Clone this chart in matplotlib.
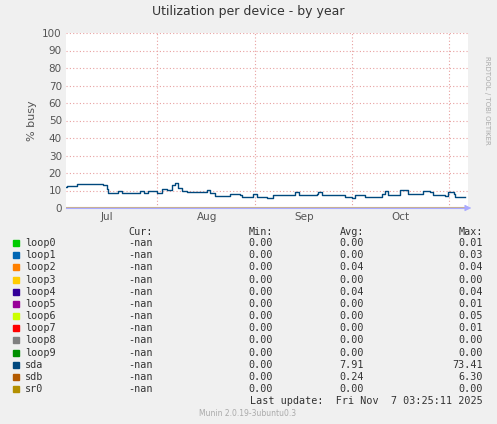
import matplotlib
matplotlib.use("Agg")
import matplotlib.pyplot as plt

title = "Utilization per device - by year"
ylabel = "% busy"
month_labels = ["Jul", "Aug", "Sep", "Oct"]
month_label_pos = [13.0, 44.8, 75.6, 106.0]
month_grid = [28.9, 60.0, 90.8, 121.6]

sda_days = [0, 0.2, 3.4, 6.6, 9.7, 11.9, 12.9, 13.4, 16.1, 16.6, 17.7, 23, 23.5, 24.6, 26.1, 28.8,
            30.4, 32, 33.5, 34.6, 35.7, 36.7, 38.3, 43.6, 44.7, 45.7, 47.3, 48.9, 51.5, 52.1, 55.2,
            55.8, 59, 59.5, 60.5, 63.7, 65.3, 65.8, 72.2, 72.7, 73.8, 79.6, 80.1, 81.2, 84.9, 88.6,
            90.7, 91.8, 93.9, 94.9, 97, 100.2, 101.3, 102.3, 105.5, 106, 108.2, 108.7, 112.4, 113.4,
            115.6, 116.6, 120.3, 121.4, 123, 123.5, 126.7]
sda_vals = [12.2, 12.5, 13.5, 14, 13.5, 13, 11, 8.5, 8.5, 10, 8.5, 8.5, 10, 8.5, 9.5, 8.4,
            11, 10.5, 13, 14.5, 11.5, 10, 9, 9, 10.5, 8.5, 7, 7, 7, 8, 7.5,
            6.5, 6.5, 8, 6.5, 5.5, 5.5, 7.5, 7.5, 9, 7.5, 8, 9, 7.5, 7.5, 6.5,
            6, 7.5, 7.5, 6.5, 6.5, 8, 10, 7.5, 7.5, 10.5, 10.5, 8, 8, 10,
            9, 7.5, 7, 9, 8, 6.5, 6.5]

names = ["loop0", "loop1", "loop2", "loop3", "loop4", "loop5", "loop6", "loop7", "loop8", "loop9", "sda", "sdb", "sr0"]
colors = ["#00CC00", "#0066B3", "#FF8000", "#FFCC00", "#330099", "#990099", "#CCFF00", "#FF0000",
          "#808080", "#008F00", "#00487D", "#B35A00", "#B38F00"]
cur = ["-nan"] * 13
mins = ["0.00"] * 13
avgs = ["0.00", "0.00", "0.04", "0.00", "0.04", "0.00", "0.00", "0.00", "0.00", "0.00", "7.91", "0.24", "0.00"]
maxs = ["0.01", "0.03", "0.04", "0.00", "0.04", "0.01", "0.05", "0.01", "0.00", "0.00", "73.41", "6.30", "0.00"]

W, H = 497, 424
fig = plt.figure(figsize=(W/100, H/100), dpi=100, facecolor="#F0F0F0")
ax = fig.add_axes([66/W, 1-208/H, 402/W, 175/H], facecolor="white")
ax.set_xlim(0, 127.6)
ax.set_ylim(0, 100)
for s in ax.spines.values():
    s.set_visible(False)
for y in range(10, 101, 10):
    ax.axhline(y, color="#E8A0A0", lw=0.8, ls=(0, (1, 2)))
for x in month_grid:
    ax.axvline(x, color="#E8A0A0", lw=0.8, ls=(0, (1, 2)))
ax.set_yticks(range(0, 101, 10))
ax.set_xticks(month_label_pos)
ax.set_xticklabels(month_labels)
ax.tick_params(length=0, labelsize=7.5, colors="#555555", pad=3)
ax.set_ylabel(ylabel, fontsize=8, color="#555555")
ax.step(sda_days, sda_vals, where="post", color=colors[10], lw=1)
ax.axhline(0.4, color="#C8B090", lw=0.8)
ax.plot([0, 127.6], [0, 0], color="#AAAAFF", lw=0.8, clip_on=False)
ax.annotate("", xy=(129.5, 0), xytext=(127, 0), arrowprops=dict(arrowstyle="-|>", color="#AAAAFF", lw=0.5), annotation_clip=False)

fig.text(248/W, 1-12/H, title, ha="center", va="center", fontsize=9, color="#333333")
fig.text(487/W, 1-100/H, "RRDTOOL / TOBI OETIKER", rotation=270, ha="center", va="center", fontsize=5, color="#AAAAAA")

fs = 7.3
fam = "DejaVu Sans Mono"
hy = 232
for x, t in [(153, "Cur:"), (273, "Min:"), (364, "Avg:"), (483, "Max:")]:
    fig.text(x/W, 1-hy/H, t, ha="right", va="center", fontsize=fs, family=fam, color="#333333")
for i, n in enumerate(names):
    y = 243 + i*12.17
    fig.patches.append(plt.Rectangle(((13)/W, 1-(y+3)/H), 6/W, 6/H, transform=fig.transFigure, color=colors[i]))
    fig.text(25/W, 1-y/H, n, ha="left", va="center", fontsize=fs, family=fam, color="#333333")
    for x, v in [(153, cur[i]), (273, mins[i]), (364, avgs[i]), (483, maxs[i])]:
        fig.text(x/W, 1-y/H, v, ha="right", va="center", fontsize=fs, family=fam, color="#333333")
fig.text(483/W, 1-401/H, "Last update:  Fri Nov  7 03:25:11 2025", ha="right", va="center", fontsize=fs, family=fam, color="#333333")
fig.text(248/W, 1-414/H, "Munin 2.0.19-3ubuntu0.3", ha="center", va="center", fontsize=5.5, color="#AAAAAA")
fig.savefig("out.png", dpi=100, facecolor=fig.get_facecolor())
